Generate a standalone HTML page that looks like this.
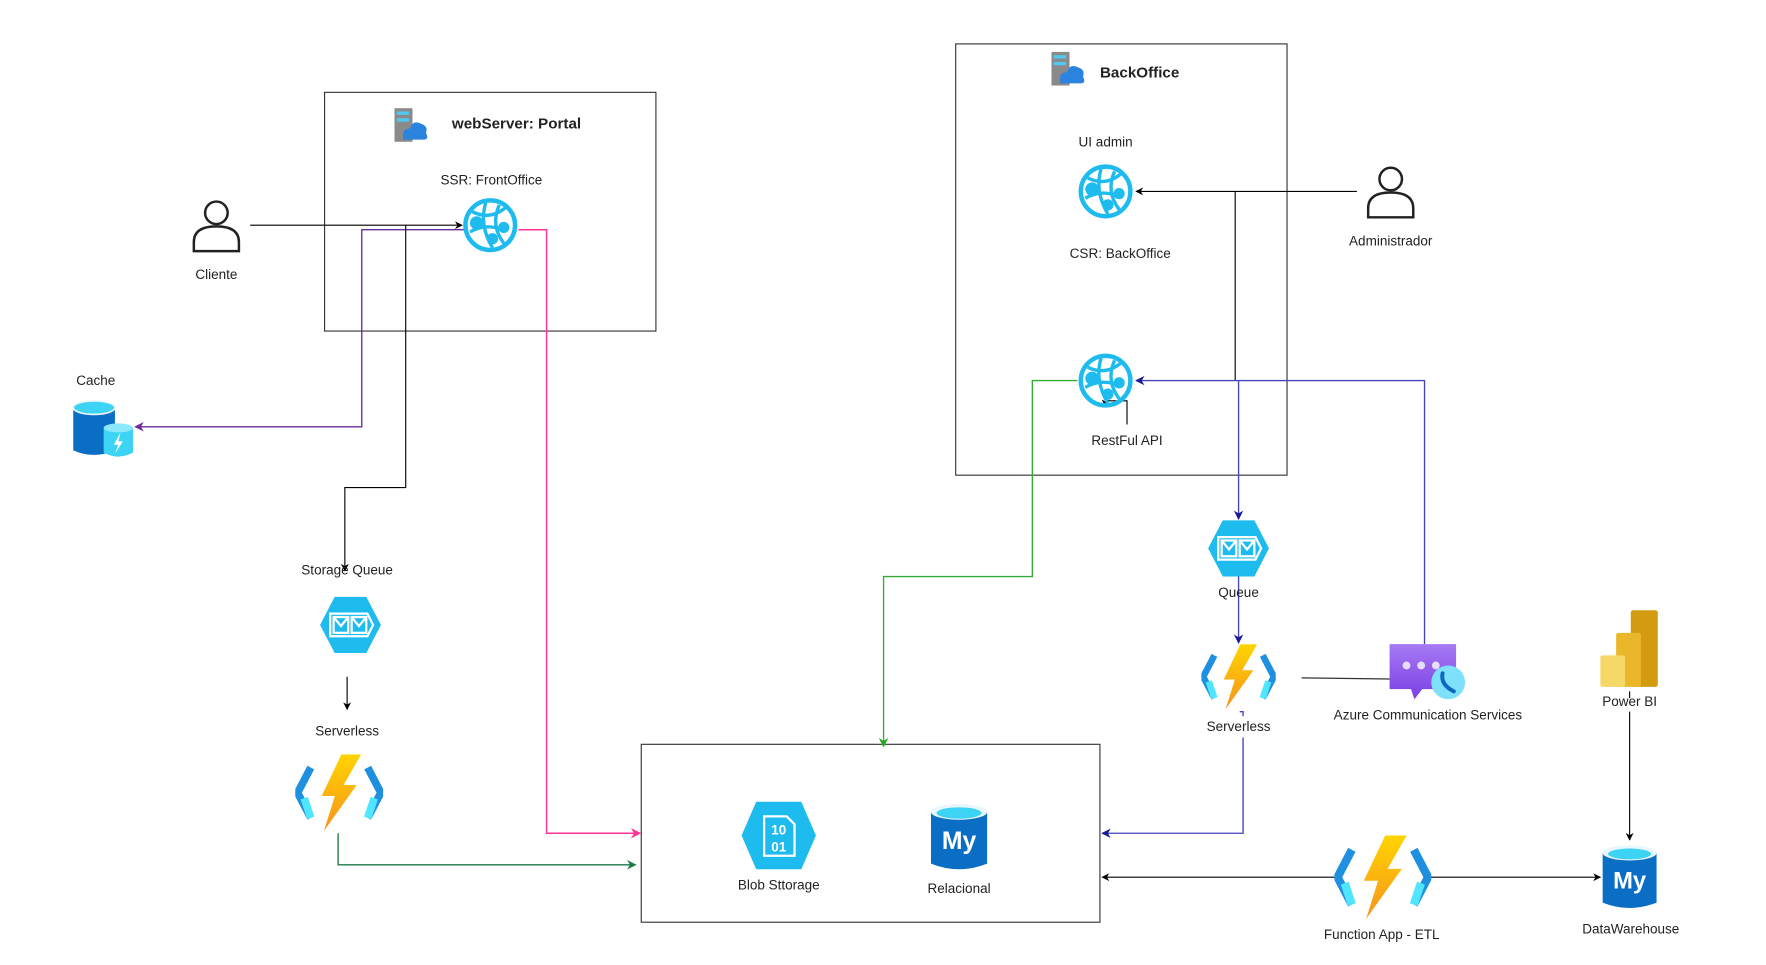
<!DOCTYPE html>
<html><head><meta charset="utf-8"><style>
html,body{margin:0;padding:0;background:#fff;width:1766px;height:965px;overflow:hidden}
svg{display:block}
text{font-family:"Liberation Sans",Arial,sans-serif;font-size:12px;fill:#222}
</style></head><body>
<svg width="1766" height="965" viewBox="0 0 1567 857" preserveAspectRatio="none" xmlns="http://www.w3.org/2000/svg">
<defs>
<marker id="ab" viewBox="0 0 10 10" refX="9" refY="5" markerWidth="7" markerHeight="7" orient="auto"><path d="M0,0 L10,5 L0,10 L3,5z" fill="#000"/></marker>
<marker id="an" viewBox="0 0 10 10" refX="9" refY="5" markerWidth="7" markerHeight="7" orient="auto"><path d="M0,0 L10,5 L0,10 L3,5z" fill="#1a1a99"/></marker>
<marker id="ap" viewBox="0 0 10 10" refX="9" refY="5" markerWidth="7" markerHeight="7" orient="auto"><path d="M0,0 L10,5 L0,10 L3,5z" fill="#ff3399"/></marker>
<marker id="au" viewBox="0 0 10 10" refX="9" refY="5" markerWidth="7" markerHeight="7" orient="auto"><path d="M0,0 L10,5 L0,10 L3,5z" fill="#6a2c9a"/></marker>
<marker id="ag" viewBox="0 0 10 10" refX="9" refY="5" markerWidth="7" markerHeight="7" orient="auto"><path d="M0,0 L10,5 L0,10 L3,5z" fill="#22aa22"/></marker>
<marker id="ad" viewBox="0 0 10 10" refX="9" refY="5" markerWidth="7" markerHeight="7" orient="auto"><path d="M0,0 L10,5 L0,10 L3,5z" fill="#1f7a4a"/></marker>
<linearGradient id="bolt" x1="0" y1="0" x2="0" y2="1"><stop offset="0" stop-color="#ffd400"/><stop offset="1" stop-color="#f7941d"/></linearGradient>
<linearGradient id="acs" x1="0" y1="0" x2="0" y2="1"><stop offset="0" stop-color="#a67af4"/><stop offset="1" stop-color="#7b3fe4"/></linearGradient>
<symbol id="web" viewBox="-25 -25 50 50">
<circle r="22" fill="none" stroke="#1ebbee" stroke-width="4"/>
<path d="M-16,-12 Q0,-4 14,-16 M-18,6 Q-4,-2 10,4 M-4,-20 Q-10,0 2,20 M8,-18 Q0,0 12,16" fill="none" stroke="#1ebbee" stroke-width="3"/>
<circle cx="-12" cy="-2" r="6" fill="#1ebbee"/><circle cx="12" cy="2" r="5" fill="#1ebbee"/><circle cx="2" cy="12" r="5" fill="#1ebbee"/>
</symbol>
<symbol id="func" viewBox="0 0 80 70">
<path d="M14,12 L2,35 L14,58" fill="none" stroke="#1f8fe0" stroke-width="7"/>
<path d="M66,12 L78,35 L66,58" fill="none" stroke="#1f8fe0" stroke-width="7"/>
<path d="M8,40 L14,58 M72,40 L66,58" stroke="#50e6ff" stroke-width="7"/>
<path d="M42,0 L60,0 L44,28 L56,28 L26,70 L36,38 L24,38z" fill="url(#bolt)"/>
</symbol>
<symbol id="queue" viewBox="0 0 54 50">
<path d="M13,0 L41,0 L54,25 L41,50 L13,50 L0,25z" fill="#1ebbee"/>
<path d="M9,15 L42,15 L47,25 L42,35 L9,35z" fill="none" stroke="#fff" stroke-width="2"/>
<rect x="12" y="18" width="13" height="14" fill="none" stroke="#fff" stroke-width="2"/><path d="M12,18 L18.5,26 L25,18" fill="none" stroke="#fff" stroke-width="2"/>
<rect x="28" y="18" width="13" height="14" fill="none" stroke="#fff" stroke-width="2"/><path d="M28,18 L34.5,26 L41,18" fill="none" stroke="#fff" stroke-width="2"/>
</symbol>
<symbol id="server" viewBox="0 0 30 30">
<rect x="0" y="0" width="16" height="30" fill="#8a8a8a"/>
<rect x="2" y="3" width="11" height="3" fill="#50c8f0"/><rect x="2" y="9" width="11" height="3" fill="#50c8f0"/>
<path d="M8,28 Q6,18 14,18 Q16,10 24,14 Q30,16 28,22 Q31,28 26,28z" fill="#2b83e0"/>
</symbol>
<symbol id="mysql" viewBox="0 0 50 62">
<path d="M0,8 L0,54 Q25,64 50,54 L50,8z" fill="#0b6ec5"/>
<ellipse cx="25" cy="8" rx="25" ry="7" fill="#e8f6fd"/><ellipse cx="25" cy="9" rx="20" ry="5" fill="#3cd3f5"/>
<text x="25" y="41" text-anchor="middle" style="font-size:22px;font-weight:bold;fill:#fff">My</text>
</symbol>
<symbol id="person" viewBox="0 0 44 48">
<circle cx="22" cy="12" r="10" fill="none" stroke="#222" stroke-width="2.2"/>
<path d="M2,46 L2,38 Q2,24 22,24 Q42,24 42,38 L42,46z" fill="none" stroke="#222" stroke-width="2.2"/>
</symbol>
</defs>

<rect x="288" y="82" width="294" height="212" fill="none" stroke="#333" stroke-width="1"/>
<rect x="848" y="39" width="294" height="383" fill="none" stroke="#333" stroke-width="1"/>
<rect x="569" y="661" width="407" height="158" fill="none" stroke="#333" stroke-width="1"/>

<path d="M222,200 L410,200" stroke="#000" fill="none" marker-end="url(#ab)"/>
<path d="M412,204 L321,204 L321,379 L120,379" stroke="#6a2c9a" stroke-width="1.2" fill="none" marker-end="url(#au)"/>
<path d="M360,200 L360,433 L306,433 L306,507" stroke="#000" fill="none" marker-end="url(#ab)"/>
<path d="M460,204 L485,204 L485,740 L568,740" stroke="#ff3399" stroke-width="1.3" fill="none" marker-end="url(#ap)"/>
<path d="M308,601 L308,630" stroke="#000" fill="none" marker-end="url(#ab)"/>
<path d="M300,740 L300,768 L564,768" stroke="#1f7a4a" stroke-width="1.2" fill="none" marker-end="url(#ad)"/>
<path d="M1204,170 L1008,170" stroke="#000" fill="none" marker-end="url(#ab)"/>
<path d="M1096,170 L1096,338" stroke="#000" fill="none"/>
<path d="M1264,572 L1264,338 L1008,338" stroke="#4444bb" stroke-width="1.2" fill="none" marker-end="url(#an)"/>
<path d="M1099,338 L1099,461" stroke="#4444bb" stroke-width="1.2" fill="none" marker-end="url(#an)"/>
<path d="M1099,512 L1099,571" stroke="#4444bb" stroke-width="1.2" fill="none" marker-end="url(#an)"/>
<path d="M1100,632 L1103,632 L1103,636 M1103,655 L1103,740 L978,740" stroke="#4444bb" stroke-width="1.2" fill="none" marker-end="url(#an)"/>
<path d="M956,338 L916,338 L916,512 L784,512 L784,663" stroke="#33aa33" stroke-width="1.2" fill="none" marker-end="url(#ag)"/>
<path d="M1155,602 L1233,603" stroke="#333" stroke-width="1.2" fill="none"/>
<path d="M1000,377 L1000,356 L981,356 L981,361" stroke="#000" fill="none" marker-end="url(#ab)"/>
<path d="M1185,779 L978,779" stroke="#000" fill="none" marker-end="url(#ab)"/>
<path d="M1268,779 L1420,779" stroke="#000" fill="none" marker-end="url(#ab)"/>
<path d="M1446,614 L1446,620 M1446,632 L1446,746" stroke="#000" fill="none" marker-end="url(#ab)"/>

<use href="#server" x="350" y="96" width="30" height="30"/>
<use href="#server" x="933" y="46" width="30" height="30"/>
<use href="#web" x="410" y="175" width="50" height="50"/>
<use href="#web" x="956" y="145" width="50" height="50"/>
<use href="#web" x="956" y="313" width="50" height="50"/>
<use href="#person" x="170" y="177" width="44" height="48"/>
<use href="#person" x="1212" y="147" width="44" height="48"/>
<use href="#queue" x="284" y="530" width="54" height="50"/>
<use href="#queue" x="1072" y="462" width="54" height="50"/>
<use href="#func" x="262" y="670" width="78" height="68"/>
<use href="#func" x="1066" y="572" width="66" height="58"/>
<use href="#func" x="1184" y="742" width="86" height="74"/>
<use href="#mysql" x="826" y="713" width="50" height="62"/>
<use href="#mysql" x="1422" y="749" width="48" height="61"/>

<path d="M65,362 L65,400 Q83,408 102,400 L102,362z" fill="#0b6ec5"/>
<ellipse cx="83.5" cy="362" rx="18.5" ry="6" fill="#3cd3f5" stroke="#e8f6fd" stroke-width="1.5"/>
<path d="M92,380 L92,402 Q105,409 118,402 L118,380z" fill="#3cd3f5"/>
<ellipse cx="105" cy="380" rx="13" ry="4" fill="#8ce8fb"/>
<path d="M107,384 L101,395 L105,395 L102,403 L109,392 L105,392z" fill="#fff"/>

<path d="M671,712 L711,712 L724,742 L711,772 L671,772 L658,742z" fill="#1ebbee"/>
<path d="M678,725 L698,725 L705,732 L705,760 L678,760z" fill="none" stroke="#fff" stroke-width="2"/>
<text x="691" y="741" text-anchor="middle" style="font-size:12px;fill:#fff;font-weight:bold">10</text>
<text x="691" y="756" text-anchor="middle" style="font-size:12px;fill:#fff;font-weight:bold">01</text>

<path d="M1233,572 L1292,572 L1292,612 L1262,612 L1255,621 L1252,612 L1233,612z" fill="url(#acs)"/>
<circle cx="1248" cy="591" r="3.5" fill="#e8dcff"/><circle cx="1261" cy="591" r="3.5" fill="#e8dcff"/><circle cx="1274" cy="591" r="3.5" fill="#e8dcff"/>
<circle cx="1285" cy="606" r="15" fill="#7fe0fb"/>
<path d="M1280,598 Q1278,608 1290,614" fill="none" stroke="#1066c0" stroke-width="3.5" stroke-linecap="round"/>

<rect x="1447" y="542" width="24" height="68" rx="2" fill="#d39b10"/>
<rect x="1434" y="562" width="22" height="48" rx="2" fill="#eab62a"/>
<rect x="1420" y="582" width="22" height="28" rx="2" fill="#f5d867"/>

<text x="401" y="114" style="font-weight:bold;font-size:13.5px">webServer: Portal</text>
<text x="976" y="69" style="font-weight:bold;font-size:13.5px">BackOffice</text>
<text x="436" y="164" text-anchor="middle">SSR: FrontOffice</text>
<text x="192" y="248" text-anchor="middle">Cliente</text>
<text x="85" y="342" text-anchor="middle">Cache</text>
<text x="308" y="510" text-anchor="middle">Storage Queue</text>
<text x="308" y="653" text-anchor="middle">Serverless</text>
<text x="691" y="790" text-anchor="middle">Blob Sttorage</text>
<text x="851" y="793" text-anchor="middle">Relacional</text>
<text x="981" y="130" text-anchor="middle">UI admin</text>
<text x="994" y="229" text-anchor="middle">CSR: BackOffice</text>
<text x="1234" y="218" text-anchor="middle">Administrador</text>
<text x="1000" y="395" text-anchor="middle">RestFul API</text>
<text x="1099" y="530" text-anchor="middle">Queue</text>
<text x="1099" y="649" text-anchor="middle">Serverless</text>
<text x="1267" y="639" text-anchor="middle">Azure Communication Services</text>
<text x="1446" y="627" text-anchor="middle">Power BI</text>
<text x="1226" y="834" text-anchor="middle">Function App - ETL</text>
<text x="1447" y="829" text-anchor="middle">DataWarehouse</text>
</svg>
</body></html>
